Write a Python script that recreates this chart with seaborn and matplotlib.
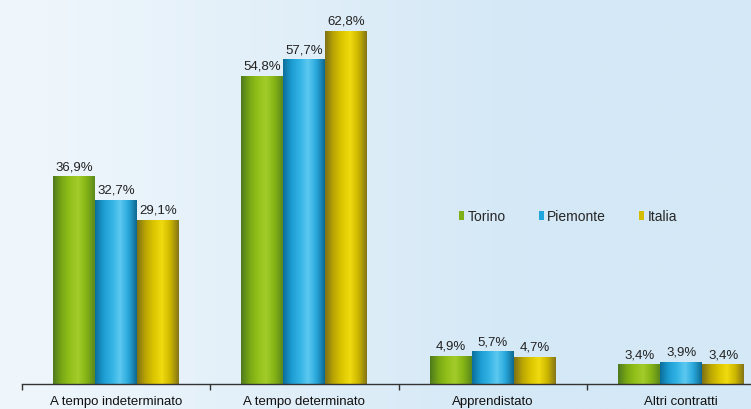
import numpy as np
import pandas as pd
import seaborn as sns
import matplotlib.pyplot as plt
from matplotlib.colors import LinearSegmentedColormap

categories = ["A tempo indeterminato", "A tempo determinato", "Apprendistato", "Altri contratti"]
series = ["Torino", "Piemonte", "Italia"]
torino = [36.9, 54.8, 4.9, 3.4]
piemonte = [32.7, 57.7, 5.7, 3.9]
italia = [29.1, 62.8, 4.7, 3.4]

base_colors = ["#80b017", "#20a6dc", "#d4bd00"]
grad_stops = [
    ["#4f7a1e", "#79a814", "#92c01a", "#a2cc2a", "#86b416", "#5c8a1c"],
    ["#0c6f9c", "#1c9cd2", "#33b3e4", "#5cc8f0", "#2aa8dc", "#0e6a92"],
    ["#7f7216", "#bba604", "#dcc600", "#f0da10", "#cdb700", "#857618"],
]

rows = []
for s, vals in zip(series, [torino, piemonte, italia]):
    for c, v in zip(categories, vals):
        rows.append({"Contratto": c, "Area": s, "Valore": v})
df = pd.DataFrame(rows)

sns.set_theme(style="white")
plt.rcParams['font.family'] = ['Liberation Sans', 'DejaVu Sans']

W, H = 751, 410
fig = plt.figure(figsize=(W / 100, H / 100), dpi=100)

# background gradient
bg = fig.add_axes([0, 0, 1, 1])
bg.set_axis_off()
xx, yy = np.meshgrid(np.linspace(0, 1, 300), np.linspace(0, 1, 200))
light = np.array([0xf4, 0xf9, 0xfd]) / 255
blue = np.array([0xd4, 0xe8, 0xf6]) / 255
t = np.clip(xx * 1.5 - 0.05, 0, 1) * 0.85 + 0.15
t = np.clip(t, 0, 1)
img = light[None, None, :] * (1 - t[..., None]) + blue[None, None, :] * t[..., None]
bg.imshow(img, extent=[0, 1, 0, 1], aspect='auto', origin='upper')
bg.set_xlim(0, 1)
bg.set_ylim(0, 1)

px = 5.618  # pixels per percent
axis_y = 384.5
ymax = 68
left_px = 21.6
cat_w = 188.5
ax = fig.add_axes([left_px / W, (H - axis_y) / H, (W - left_px) / W, ymax * px / H])
ax.patch.set_alpha(0)

sns.barplot(data=df, x="Contratto", y="Valore", hue="Area", hue_order=series,
            order=categories, palette=base_colors, width=0.668, saturation=1,
            ax=ax, errorbar=None, linewidth=0)

ax.set_ylim(0, ymax)
xmax = -0.5 + (W - left_px) / cat_w
ax.set_xlim(-0.5, xmax)

# gradients on bars
for ci, cont in enumerate(ax.containers):
    cmap = LinearSegmentedColormap.from_list("g%d" % ci, grad_stops[ci])
    grad = np.linspace(0, 1, 64)[None, :]
    for patch in cont.patches:
        x0 = patch.get_x()
        w = patch.get_width()
        h = patch.get_height()
        im = ax.imshow(grad, extent=[x0, x0 + w, 0, h], aspect='auto', cmap=cmap,
                       origin='lower', zorder=patch.get_zorder() + 0.1)
        im.set_clip_path(patch)
    labels = [("%.1f%%" % v).replace(".", ",") for v in cont.datavalues]
    ax.bar_label(cont, labels=labels, padding=3, fontsize=9.5, color="#222222")

ax.set_ylim(0, ymax)
ax.set_xlim(-0.5, xmax)

for sp in ["left", "top", "right"]:
    ax.spines[sp].set_visible(False)
ax.spines["bottom"].set_color("#333333")
ax.spines["bottom"].set_linewidth(1.0)
ax.set_yticks([])
ax.set_xlabel("")
ax.set_ylabel("")
ax.set_xticks(range(len(categories)))
ax.set_xticklabels(categories, fontsize=9.5, color="#111111")
ax.tick_params(axis='x', which='major', bottom=True, length=0, pad=8)
ax.set_xticks([-0.5, 0.5, 1.5, 2.5], minor=True)
ax.tick_params(axis='x', which='minor', bottom=True, length=4, width=1, color="#333333", direction='out')

leg = ax.legend(loc="center", bbox_to_anchor=(568 / W, 1 - 217 / H), bbox_transform=fig.transFigure,
                ncol=3, frameon=False, fontsize=10, handlelength=0.35, handleheight=0.6,
                handletextpad=0.25, columnspacing=2.4)

fig.savefig("out.png", dpi=100)
